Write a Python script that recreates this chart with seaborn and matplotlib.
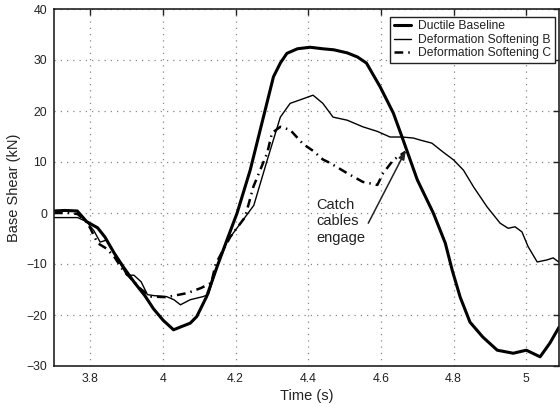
import matplotlib
matplotlib.use("Agg")
import matplotlib.pyplot as plt
import seaborn as sns
import numpy as np

# ---- data ----
t_base = [3.70, 3.73, 3.764, 3.79, 3.82, 3.84, 3.866, 3.893, 3.92, 3.95, 3.974, 4.00, 4.029,
          4.05, 4.075, 4.093, 4.12, 4.149, 4.176, 4.204, 4.24, 4.304, 4.323, 4.341, 4.37,
          4.405, 4.44, 4.47, 4.507, 4.535, 4.56, 4.598, 4.634, 4.658, 4.70, 4.744, 4.777,
          4.796, 4.818, 4.845, 4.88, 4.92, 4.964, 5.0, 5.038, 5.065, 5.09]
y_base = [0.4, 0.5, 0.4, -1.7, -2.9, -4.7, -7.9, -10.8, -13.5, -16.2, -18.8, -21.0, -22.9,
          -22.3, -21.6, -20.3, -16.4, -10.5, -5.3, 0.0, 8.4, 26.7, 29.4, 31.3, 32.2,
          32.5, 32.2, 32.0, 31.4, 30.6, 29.4, 24.7, 19.6, 14.9, 6.5, 0.0, -5.9,
          -11.2, -16.5, -21.4, -24.3, -26.9, -27.5, -26.9, -28.2, -25.5, -22.4]

t_b = [3.70, 3.74, 3.765, 3.79, 3.81, 3.827, 3.845, 3.874, 3.90, 3.92, 3.94, 3.957, 3.975,
       4.01, 4.03, 4.048, 4.075, 4.11, 4.125, 4.149, 4.177, 4.22, 4.25, 4.287, 4.323, 4.35,
       4.378, 4.413, 4.44, 4.468, 4.507, 4.55, 4.59, 4.625, 4.658, 4.689, 4.708, 4.74, 4.77,
       4.80, 4.827, 4.855, 4.892, 4.928, 4.95, 4.969, 4.988, 5.005, 5.03, 5.057, 5.074, 5.093]
y_b = [-0.9, -0.9, -0.9, -1.7, -3.5, -5.7, -5.3, -8.8, -12.2, -12.2, -13.5, -16.0, -16.2,
       -16.4, -17.0, -18.0, -17.0, -16.4, -16.0, -10.5, -5.5, -1.4, 1.5, 10.4, 18.8, 21.5,
       22.2, 23.1, 21.5, 18.8, 18.2, 16.9, 16.0, 14.9, 14.9, 14.7, 14.3, 13.7, 12.0,
       10.4, 8.4, 5.1, 1.2, -2.0, -3.0, -2.7, -3.7, -6.6, -9.6, -9.2, -8.8, -9.8]

t_c = [3.70, 3.74, 3.765, 3.79, 3.80, 3.82, 3.845, 3.866, 3.89, 3.94, 3.968, 4.01, 4.067,
       4.105, 4.133, 4.145, 4.185, 4.226, 4.249, 4.287, 4.30, 4.323, 4.35, 4.386, 4.413,
       4.44, 4.46, 4.507, 4.55, 4.59, 4.606, 4.634, 4.667]
y_c = [0.0, 0.0, -0.2, -1.8, -3.0, -5.9, -7.0, -8.6, -11.2, -15.0, -16.4, -16.5, -15.7,
       -14.7, -13.7, -10.0, -4.7, -0.8, 5.2, 11.8, 15.7, 16.9, 16.3, 13.5, 12.2,
       10.5, 9.8, 7.8, 6.1, 5.5, 7.8, 10.4, 12.0]

labels = ["Ductile Baseline", "Deformation Softening B", "Deformation Softening C"]
x_ticks = [3.8, 4.0, 4.2, 4.4, 4.6, 4.8, 5.0]
x_tick_labels = ["3.8", "4", "4.2", "4.4", "4.6", "4.8", "5"]
y_ticks = [-30, -20, -10, 0, 10, 20, 30, 40]
annot_text = "Catch\ncables\nengage"
annot_xy = (4.668, 12.2)
annot_text_xy = (4.422, 3.0)
arrow_tail = (4.565, -2.0)

# ---- style ----
sns.set_style("white")
plt.rcParams["font.family"] = ["Liberation Sans", "DejaVu Sans"]
plt.rcParams["axes.unicode_minus"] = True

fig = plt.figure(figsize=(5.6, 4.07), dpi=100)
ax = fig.add_axes([54/560, 41/407, 505/560, 357/407])

sns.lineplot(x=t_base, y=y_base, ax=ax, color="black", lw=2.2, label=labels[0],
             estimator=None, sort=False)
sns.lineplot(x=t_b, y=y_b, ax=ax, color="black", lw=1.0, label=labels[1],
             estimator=None, sort=False)
sns.lineplot(x=t_c, y=y_c, ax=ax, color="black", lw=1.8, label=labels[2],
             estimator=None, sort=False, linestyle=(0, (3.5, 2.0, 0.6, 2.0)))

ax.set_xlim(3.70, 5.09)
ax.set_ylim(-30, 40)
ax.set_xticks(x_ticks)
ax.set_xticklabels(x_tick_labels)
ax.set_yticks(y_ticks)

ax.grid(True, color="#888888", linestyle=(0, (1, 4)), linewidth=0.9)
ax.tick_params(direction="in", length=4, width=1, top=True, right=True,
               labelsize=8.8, colors="#222222", pad=5)
for s in ax.spines.values():
    s.set_color("#222222")
    s.set_linewidth(1.2)

ax.set_xlabel("Time (s)", fontsize=10.5, color="#222222", labelpad=3)
ax.set_ylabel("Base Shear (kN)", fontsize=10.5, color="#222222", labelpad=4)

leg = ax.legend(loc="upper right", bbox_to_anchor=(0.992, 0.978), borderaxespad=0,
                fancybox=False, frameon=True, fontsize=8.7, handlelength=1.4,
                handletextpad=0.6, borderpad=0.3, labelspacing=0.12)
leg.get_frame().set_edgecolor("#222222")
leg.get_frame().set_linewidth(1.0)
leg.get_frame().set_alpha(1.0)
for txt in leg.get_texts():
    txt.set_color("#222222")

ax.text(annot_text_xy[0], annot_text_xy[1], annot_text, fontsize=10.5, color="#222222",
        ha="left", va="top", linespacing=1.25)
ax.annotate("", xy=annot_xy, xytext=arrow_tail,
            arrowprops=dict(arrowstyle="-|>,head_length=0.5,head_width=0.18",
                            color="#222222", lw=1.1, shrinkA=0, shrinkB=0))

fig.savefig("out.png", dpi=100)
